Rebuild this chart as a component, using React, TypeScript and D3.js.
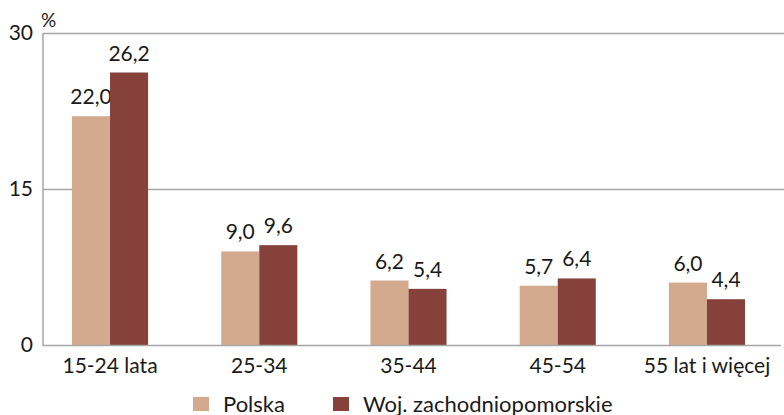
import React, { useEffect, useRef } from 'react'
import * as d3 from 'd3'

const categories = ['15-24 lata', '25-34', '35-44', '45-54', '55 lat i więcej']
const polska = [22.0, 9.0, 6.2, 5.7, 6.0]
const zachodniopomorskie = [26.2, 9.6, 5.4, 6.4, 4.4]
const seriesNames = ['Polska', 'Woj. zachodniopomorskie']
const seriesColors = ['#d4aa8f', '#86413b']
const yTicks = [0, 15, 30]

const width = 784
const height = 415
const font = 'Lato, "Open Sans", sans-serif'
const textColor = '#1a1a1a'

export default function App() {
  const svgRef = useRef<SVGSVGElement>(null)

  useEffect(() => {
    if (!svgRef.current) return
    const svg = d3.select(svgRef.current)
    svg.selectAll('*').remove()

    const left = 43
    const right = 781
    const top = 33
    const bottom = 345

    const y = d3.scaleLinear().domain([0, 30]).range([bottom, top])

    // bands centred on groups, spacing ~149px
    const x = d3.scaleBand<string>()
      .domain(categories)
      .range([35.4, 781.6])
      .paddingInner(0.49)
      .paddingOuter(0.245)

    const x1 = d3.scaleBand<number>()
      .domain([0, 1])
      .range([0, x.bandwidth()])

    // gridlines
    svg.append('g')
      .selectAll('line')
      .data(yTicks.filter(d => d > 0))
      .enter()
      .append('line')
      .attr('x1', left)
      .attr('x2', width)
      .attr('y1', d => y(d) + 0.5)
      .attr('y2', d => y(d) + 0.5)
      .attr('stroke', '#a6a6a6')
      .attr('stroke-width', 1.5)

    // y tick labels
    svg.append('g')
      .selectAll('text')
      .data(yTicks)
      .enter()
      .append('text')
      .attr('x', 33)
      .attr('y', d => y(d) + 7)
      .attr('text-anchor', 'end')
      .attr('font-family', font)
      .attr('font-size', 21)
      .attr('fill', textColor)
      .text(d => d)

    svg.append('text')
      .attr('x', 41)
      .attr('y', 27)
      .attr('font-family', font)
      .attr('font-size', 19)
      .attr('fill', textColor)
      .text('%')

    // bars
    const series = [polska, zachodniopomorskie]
    series.forEach((values, si) => {
      const g = svg.append('g')
      g.selectAll('rect')
        .data(values)
        .enter()
        .append('rect')
        .attr('x', (_, i) => (x(categories[i]) ?? 0) + (x1(si) ?? 0))
        .attr('width', x1.bandwidth())
        .attr('y', d => y(d))
        .attr('height', d => y(0) - y(d))
        .attr('fill', seriesColors[si])

      g.selectAll('text')
        .data(values)
        .enter()
        .append('text')
        .attr('x', (_, i) => (x(categories[i]) ?? 0) + (x1(si) ?? 0) + x1.bandwidth() / 2)
        .attr('y', d => y(d) - 12)
        .attr('text-anchor', 'middle')
        .attr('font-family', font)
        .attr('font-size', 21)
        .attr('fill', textColor)
        .text(d => d3.format('.1f')(d).replace('.', ','))
    })

    // axes lines
    svg.append('line')
      .attr('x1', left).attr('x2', left)
      .attr('y1', top).attr('y2', bottom + 1)
      .attr('stroke', '#a6a6a6')
      .attr('stroke-width', 1.5)
    svg.append('line')
      .attr('x1', left).attr('x2', right)
      .attr('y1', bottom + 0.5).attr('y2', bottom + 0.5)
      .attr('stroke', '#a6a6a6')
      .attr('stroke-width', 1.5)

    // category labels
    svg.append('g')
      .selectAll('text')
      .data(categories)
      .enter()
      .append('text')
      .attr('x', d => (x(d) ?? 0) + x.bandwidth() / 2)
      .attr('y', 373)
      .attr('text-anchor', 'middle')
      .attr('font-family', font)
      .attr('font-size', 21)
      .attr('fill', textColor)
      .text(d => d)

    // legend
    const legendX = [193, 333]
    const legend = svg.append('g')
    seriesNames.forEach((name, i) => {
      legend.append('rect')
        .attr('x', legendX[i])
        .attr('y', 397)
        .attr('width', 16)
        .attr('height', 14)
        .attr('fill', seriesColors[i])
      legend.append('text')
        .attr('x', legendX[i] + 30)
        .attr('y', 412)
        .attr('font-family', font)
        .attr('font-size', 22)
        .attr('fill', textColor)
        .text(name)
    })
  }, [])

  return (
    <svg
      ref={svgRef}
      width={width}
      height={height}
      style={{ position: 'absolute', left: 0, top: 0, background: '#fff' }}
    />
  )
}
